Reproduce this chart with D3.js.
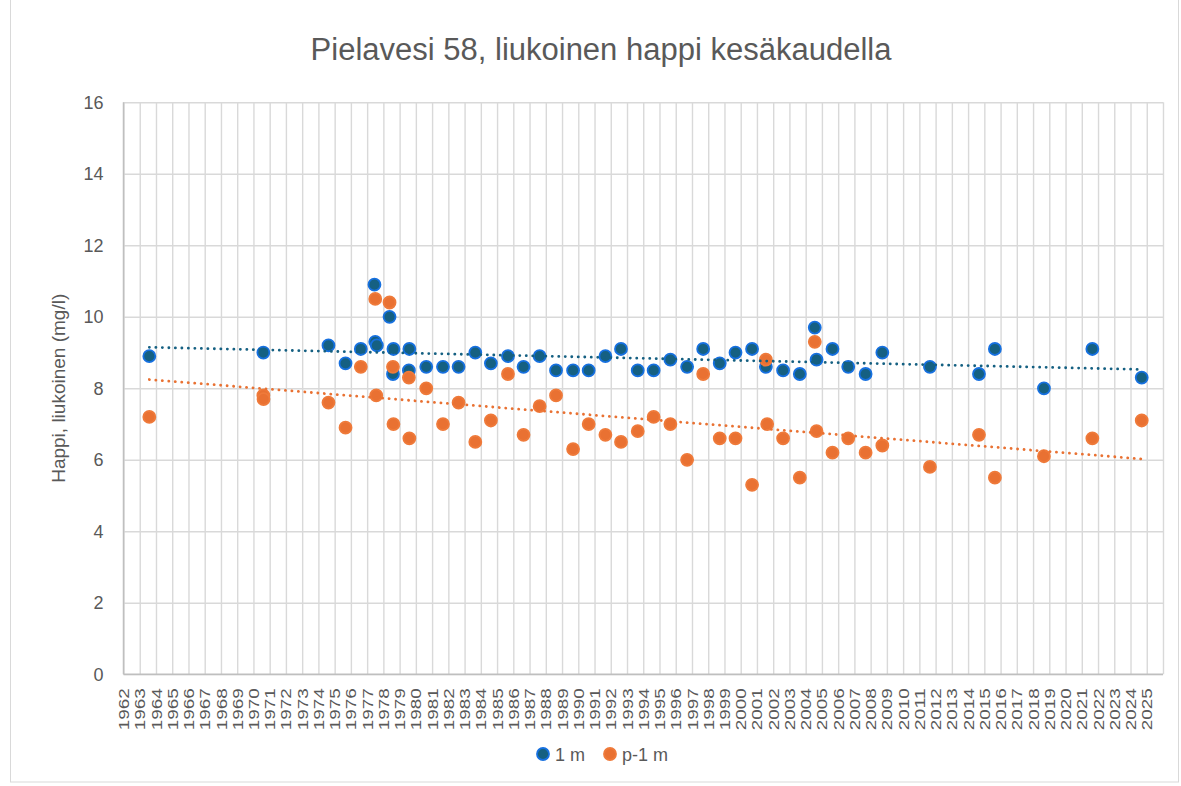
<!DOCTYPE html>
<html>

<head>
    <meta charset="utf-8">
    <style>
        body {
            margin: 0;
            background: #fff;
        }

        svg {
            font-family: 'Liberation Sans', Arial, sans-serif;
        }

        .x .domain,
        .y .domain {
            display: none;
        }

        .x .tick line,
        .y .tick line {
            stroke: #d9d9d9;
            stroke-width: 1.4px;
        }

        .tick text {
            fill: #595959;
        }
    </style>
</head>

<body>
    <svg width="1181" height="786"></svg>

    <script src="https://d3js.org/d3.v7.min.js"></script>
    <script>
        // sampling dates as decimal years
        let dates1m = [1963.59, 1970.61, 1974.62, 1975.67, 1976.61, 1977.45, 1977.50, 1977.60, 1978.38, 1978.59,
            1978.62, 1979.57, 1979.60, 1980.64, 1981.67, 1982.63, 1983.66, 1984.62, 1985.67, 1986.63,
            1987.62, 1988.63, 1989.68, 1990.64, 1991.67, 1992.63, 1993.66, 1994.64, 1995.67, 1996.70,
            1997.69, 1998.71, 1999.68, 2000.70, 2001.55, 2002.61, 2003.64, 2004.56, 2004.67, 2005.65,
            2006.62, 2007.69, 2008.72, 2011.65, 2014.67, 2015.65, 2018.67, 2021.65, 2024.69]
        let values1m = [8.9, 9.0, 9.2, 8.7, 9.1, 10.9, 9.3, 9.2, 10.0, 8.4,
            9.1, 8.5, 9.1, 8.6, 8.6, 8.6, 9.0, 8.7, 8.9, 8.6,
            8.9, 8.5, 8.5, 8.5, 8.9, 9.1, 8.5, 8.5, 8.8, 8.6,
            9.1, 8.7, 9.0, 9.1, 8.6, 8.5, 8.4, 9.7, 8.8, 9.1,
            8.6, 8.4, 9.0, 8.6, 8.4, 9.1, 8.0, 9.1, 8.3]

        let datesP1m = [1963.59, 1970.61, 1970.62, 1974.62, 1975.67, 1976.61, 1977.50, 1977.56, 1978.38, 1978.59,
            1978.62, 1979.57, 1979.60, 1980.64, 1981.67, 1982.63, 1983.66, 1984.62, 1985.67, 1986.63,
            1987.62, 1988.63, 1989.68, 1990.64, 1991.67, 1992.63, 1993.66, 1994.64, 1995.67, 1996.70,
            1997.69, 1998.71, 1999.68, 2000.70, 2001.55, 2001.63, 2002.61, 2003.64, 2004.56, 2004.67,
            2005.65, 2006.62, 2007.69, 2008.72, 2011.65, 2014.67, 2015.65, 2018.67, 2021.65, 2024.69]
        let valuesP1m = [7.2, 7.8, 7.7, 7.6, 6.9, 8.6, 10.5, 7.8, 10.4, 8.6,
            7.0, 8.3, 6.6, 8.0, 7.0, 7.6, 6.5, 7.1, 8.4, 6.7,
            7.5, 7.8, 6.3, 7.0, 6.7, 6.5, 6.8, 7.2, 7.0, 6.0,
            8.4, 6.6, 6.6, 5.3, 8.8, 7.0, 6.6, 5.5, 9.3, 6.8,
            6.2, 6.6, 6.2, 6.4, 5.8, 6.7, 5.5, 6.1, 6.6, 7.1]

        let yearTicks = d3.range(1962, 2026)
        let valueTicks = [0, 2, 4, 6, 8, 10, 12, 14, 16]
        let seriesNames = ["1 m", "p-1 m"]

        let title = "Pielavesi 58, liukoinen happi kesäkaudella"
        let yTitle = "Happi, liukoinen (mg/l)"

        let series = [
            { name: seriesNames[0], dates: dates1m, values: values1m, fill: "#156082", stroke: "#1670e0", trend: "#156082" },
            { name: seriesNames[1], dates: datesP1m, values: valuesP1m, fill: "#e97132", stroke: "#ef7a3a", trend: "#e97132" }
        ]

        let svg = d3.select("svg")

        // outer chart border
        svg.append("rect")
            .attr("x", 10.5)
            .attr("y", -1)
            .attr("width", 1168)
            .attr("height", 783)
            .style("fill", "none")
            .style("stroke", "#d9d9d9")

        let x = d3.scaleLinear()
            .domain([1962, 2026])
            .range([123.5, 1163])

        let y = d3.scaleLinear()
            .domain([0, 16])
            .range([674.3, 102.3])

        // horizontal grid + labels
        svg.append("g")
            .attr("class", "y axis")
            .attr("transform", `translate(${x(2026)},0)`)
            .call(d3.axisLeft(y).tickValues(valueTicks).tickSize(x(2026) - x(1962)).tickPadding(20))
            .selectAll(".tick text")
            .style("font-size", "18px")

        // vertical grid (one line per year)
        let xAxis = svg.append("g")
            .attr("class", "x axis")
            .attr("transform", `translate(0,${y(0)})`)
            .call(d3.axisBottom(x).tickValues(yearTicks.concat([2026])).tickSize(-(y(0) - y(16))).tickFormat(d3.format("d")))

        xAxis.selectAll(".tick text")
            .text(d => d == 2026 ? "" : d)
            .attr("transform", "rotate(-90)")
            .attr("text-anchor", "end")
            .attr("x", -14)
            .attr("y", 0)
            .attr("dy", "0.36em")
            .attr("textLength", d => d == 2026 ? null : 42)
            .attr("lengthAdjust", "spacingAndGlyphs")
            .style("font-size", "14px")

        // axis lines
        svg.append("line")
            .attr("x1", x(1962)).attr("x2", x(2026))
            .attr("y1", y(0)).attr("y2", y(0))
            .style("stroke", "#bfbfbf")
            .style("stroke-width", "1.5px")

        svg.append("line")
            .attr("x1", x(1962)).attr("x2", x(1962))
            .attr("y1", y(0)).attr("y2", y(16))
            .style("stroke", "#bfbfbf")
            .style("stroke-width", "1.5px")

        // markers
        series.forEach(function (s) {
            let pts = s.dates.map((d, i) => ({ date: d, value: s.values[i] }))
            svg.append("g")
                .selectAll("circle")
                .data(pts)
                .join("circle")
                .attr("cx", d => x(d.date))
                .attr("cy", d => y(d.value))
                .attr("r", 6)
                .style("fill", s.fill)
                .style("stroke", s.stroke)
                .style("stroke-width", "1.8px")
        })

        // linear trendlines (least squares over the points)
        let line = d3.line()
            .x(d => x(d[0]))
            .y(d => y(d[1]))

        series.forEach(function (s) {
            let mx = d3.mean(s.dates)
            let my = d3.mean(s.values)
            let sxy = d3.sum(s.dates, (d, i) => (d - mx) * (s.values[i] - my))
            let sxx = d3.sum(s.dates, d => (d - mx) * (d - mx))
            let slope = sxy / sxx
            let ends = d3.extent(s.dates)
            let trendPts = ends.map(d => [d, my + slope * (d - mx)])
            svg.append("path")
                .attr("d", line(trendPts))
                .style("fill", "none")
                .style("stroke", s.trend)
                .style("stroke-width", "2.8px")
                .style("stroke-linecap", "round")
                .style("stroke-dasharray", "0.1,6.4")
        })

        // title
        svg.append("text")
            .attr("x", 601)
            .attr("y", 60)
            .attr("text-anchor", "middle")
            .style("font-size", "31px")
            .style("fill", "#595959")
            .text(title)

        svg.append("text")
            .attr("transform", `translate(65,${(y(0) + y(16)) / 2}) rotate(-90)`)
            .attr("text-anchor", "middle")
            .style("font-size", "19px")
            .style("fill", "#595959")
            .text(yTitle)

        // legend
        let legend = svg.append("g")
            .selectAll("g")
            .data(series)
            .join("g")
            .attr("transform", (d, i) => `translate(${[543, 610][i]},754)`)

        legend.append("circle")
            .attr("r", 6)
            .style("fill", d => d.fill)
            .style("stroke", d => d.stroke)
            .style("stroke-width", "1.8px")

        legend.append("text")
            .attr("x", 12)
            .attr("y", 6.5)
            .style("font-size", "18px")
            .style("fill", "#595959")
            .text(d => d.name)
    </script>
</body>

</html>
